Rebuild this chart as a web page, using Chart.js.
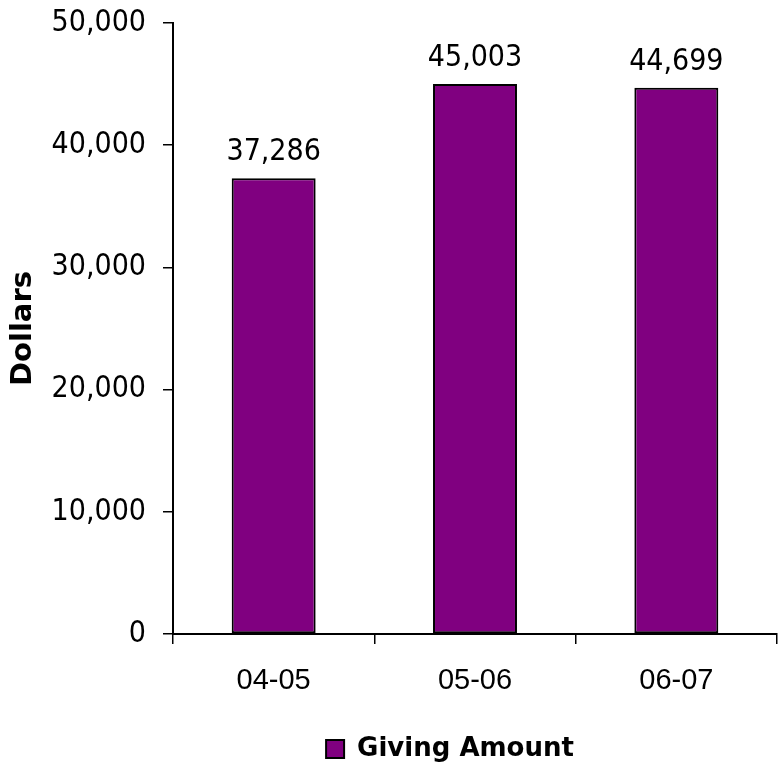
<!DOCTYPE html>
<html>
<head>
<meta charset="utf-8">
<script src="https://cdn.jsdelivr.net/npm/chart.js@4/dist/chart.umd.min.js"></script>
<style>
    html, body { margin: 0; padding: 0; background: #fff; }
    #wrap { width: 782px; height: 767px; }
</style>
</head>
<body>
<div id="wrap"><canvas id="givingChart" width="782" height="767"></canvas></div>
<script>
const categories = ["04-05", "05-06", "06-07"];
const givingAmount = [37286, 45003, 44699];
const yTicks = [0, 10000, 20000, 30000, 40000, 50000];
const seriesLabel = "Giving Amount";
const yTitle = "Dollars";

const tickFont = "\"DejaVu Sans Condensed\", \"DejaVu Sans\", sans-serif";

// value labels above each bar
const barValueLabels = {
    id: "barValueLabels",
    afterDatasetsDraw(chart) {
        const ctx = chart.ctx;
        const meta = chart.getDatasetMeta(0);
        ctx.save();
        ctx.font = "30px " + tickFont;
        ctx.fillStyle = "#000";
        ctx.textAlign = "center";
        ctx.textBaseline = "alphabetic";
        meta.data.forEach((bar, i) => {
            const v = chart.data.datasets[0].data[i];
            ctx.fillText(v.toLocaleString("en-US"), bar.x, bar.y - 18);
        });
        ctx.restore();
    }
};

// the legend in the original sits a bit left of the plot centre and low
const legendShift = {
    id: "legendShift",
    afterLayout(chart) {
        if (chart.legend) {
            chart.legend.left -= 25;
            chart.legend.right -= 25;
            chart.legend.top += 5;
            chart.legend.bottom += 5;
        }
    }
};

const ctx = document.getElementById("givingChart").getContext("2d");
new Chart(ctx, {
    type: "bar",
    data: {
        labels: categories,
        datasets: [
            {
                label: seriesLabel,
                data: givingAmount,
                backgroundColor: "#800080",
                borderColor: "#000",
                borderWidth: 2,
                borderSkipped: false,
                barPercentage: 0.417,
                categoryPercentage: 1
            }
        ]
    },
    options: {
        responsive: false,
        animation: false,
        layout: {
            padding: { top: 23, right: 5, bottom: 0, left: 0 }
        },
        plugins: {
            tooltip: { enabled: false },
            legend: {
                position: "bottom",
                fullSize: false,
                labels: {
                    boxWidth: 18,
                    boxHeight: 18,
                    padding: 2,
                    color: "#000",
                    font: { family: "\"DejaVu Sans\", sans-serif", size: 26, weight: "bold" }
                }
            }
        },
        scales: {
            x: {
                grid: {
                    offset: true,
                    drawOnChartArea: false,
                    color: "#000",
                    lineWidth: 1.5,
                    tickLength: 10
                },
                border: { color: "#000", width: 2 },
                ticks: {
                    color: "#000",
                    padding: 20,
                    font: { family: "\"Liberation Sans\", Arial, sans-serif", size: 29 }
                },
                afterFit(scale) {
                    scale.height = 95;
                }
            },
            y: {
                min: 0,
                max: 50000,
                afterBuildTicks(scale) {
                    scale.ticks = yTicks.map(v => ({ value: v }));
                },
                grid: {
                    drawOnChartArea: false,
                    color: "#000",
                    lineWidth: 1.5,
                    tickLength: 10
                },
                border: { color: "#000", width: 2 },
                ticks: {
                    color: "#000",
                    padding: 17,
                    font: { family: tickFont, size: 30 },
                    callback: v => v.toLocaleString("en-US")
                },
                title: {
                    display: true,
                    text: yTitle,
                    color: "#000",
                    padding: { top: 6, bottom: 0 },
                    font: { family: "\"DejaVu Sans\", sans-serif", size: 29, weight: "bold" }
                },
                afterFit(scale) {
                    scale.width = 173;
                    scale.paddingTop = 0;
                    scale.paddingBottom = 0;
                }
            }
        }
    },
    plugins: [barValueLabels, legendShift]
});
</script>
</body>
</html>
